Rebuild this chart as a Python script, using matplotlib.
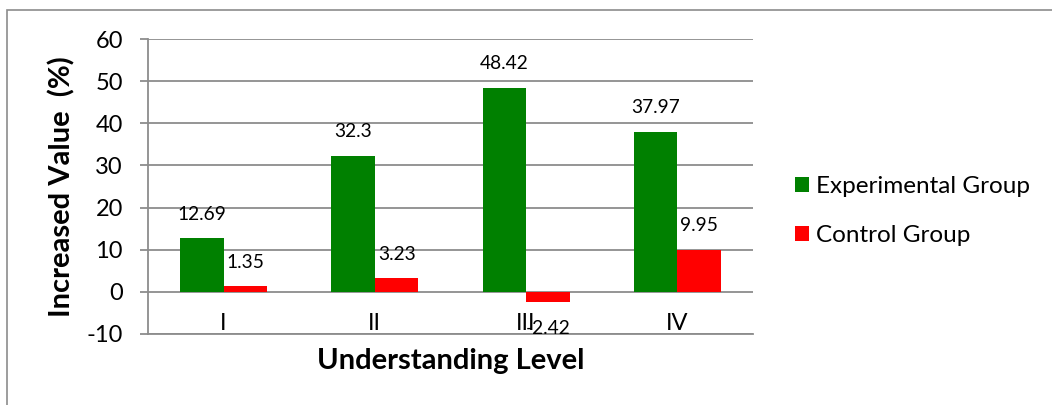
import matplotlib.pyplot as plt
import matplotlib.patches as mpatches
import matplotlib.transforms as mtransforms
import numpy as np

# data
levels = ['I', 'II', 'III', 'IV']
experimental = [12.69, 32.3, 48.42, 37.97]
control = [1.35, 3.23, -2.42, 9.95]
exp_labels = ['12.69', '32.3', '48.42', '37.97']
ctl_labels = ['1.35', '3.23', '-2.42', '9.95']
yticks = [-10, 0, 10, 20, 30, 40, 50, 60]

plt.rcParams['font.family'] = ['Lato', 'DejaVu Sans']

W, H = 1052, 405
fig = plt.figure(figsize=(W / 100, H / 100), dpi=100)
ax = fig.add_axes([148 / W, 1 - 334 / H, 605 / W, 295 / H])

grey = '#8c8c8c'
x = np.arange(len(levels))
bw = 0.288
ax.bar(x - bw / 2, experimental, bw, color='#008000', label='Experimental Group', zorder=3)
ax.bar(x + bw / 2, control, bw, color='#ff0000', label='Control Group', zorder=3)

ax.set_xlim(-0.5, len(levels) - 0.5)
ax.set_ylim(-10, 60)
ax.set_yticks(yticks)
ax.set_yticklabels([str(t) for t in yticks], fontsize=17)
ax.tick_params(axis='y', length=6, width=1.3, color=grey, pad=12)
ax.set_xticks([])
ax.yaxis.grid(True, color=grey, lw=1.3, zorder=0)
for s in ['top', 'right']:
    ax.spines[s].set_visible(False)
for s in ['left', 'bottom']:
    ax.spines[s].set_color(grey)
    ax.spines[s].set_linewidth(1.3)

# category labels sit just above the bottom axis line
for xi, lab in zip(x, levels):
    ax.text(xi, -10, lab, ha='center', va='bottom', fontsize=17)

# value labels (the -2.42 one overlaps "III" in the original too)
off = mtransforms.offset_copy(ax.transData, fig=fig, y=24 / 100 * 72, units='points')
off_dn = mtransforms.offset_copy(ax.transData, fig=fig, y=-26 / 100 * 72, units='points')
for xi, v, lab in zip(x, experimental, exp_labels):
    ax.text(xi - bw / 2, v, lab, transform=off, ha='center', va='center', fontsize=13.8)
for xi, v, lab in zip(x, control, ctl_labels):
    tr = off if v >= 0 else off_dn
    ax.text(xi + bw / 2, v, lab, transform=tr, ha='center', va='center', fontsize=13.8)

fig.text(62 / W, 1 - 187 / H, 'Increased Value  (%)', rotation=90, ha='center', va='center',
         fontsize=21, fontweight='bold')
fig.text(451 / W, 1 - 361 / H, 'Understanding Level', ha='center', va='center',
         fontsize=21, fontweight='bold')

fig.legend(loc='upper left', bbox_to_anchor=(795 / W, 1 - 176 / H), frameon=False,
           fontsize=17.5, handlelength=0.58, handleheight=0.58, handletextpad=0.3,
           labelspacing=1.17, borderaxespad=0, borderpad=0)

# outer chart-area border (cropped at right and bottom)
fig.patches.append(mpatches.Rectangle((7 / W, -0.1), 1.2, 1.1 - 10 / H, transform=fig.transFigure,
                                      fill=False, edgecolor='#8c8c8c', lw=1.2))

fig.savefig('out.png', dpi=100)
